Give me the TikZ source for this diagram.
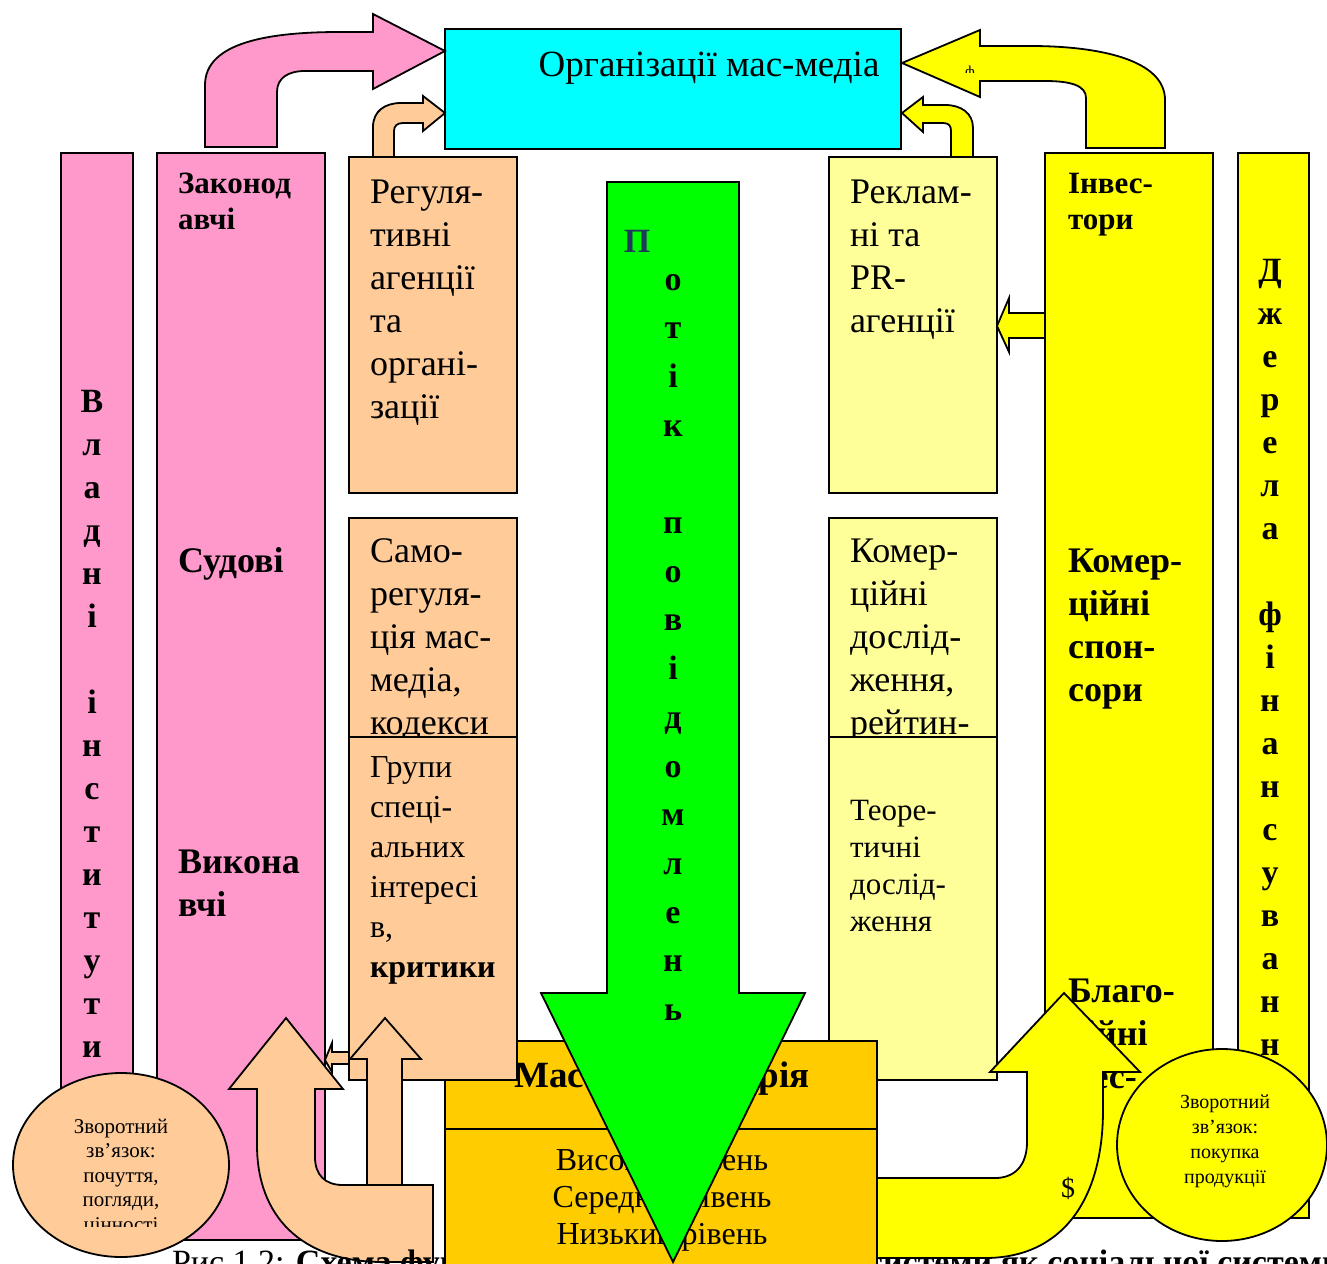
\documentclass[tikz,border=0pt]{standalone}
\usepackage{fontspec}
\setmainfont{Liberation Serif}
\definecolor{pinkc}{HTML}{FF99CC}
\definecolor{peach}{HTML}{FFCC99}
\definecolor{lyel}{HTML}{FFFF99}
\definecolor{yel}{HTML}{FFFF00}
\definecolor{cyanc}{HTML}{00FFFF}
\definecolor{greenc}{HTML}{00FF00}
\definecolor{orng}{HTML}{FFCC00}
\definecolor{slate}{HTML}{203A5A}
\newcommand{\myfs}[2]{\fontsize{#1}{#2}\selectfont}
\begin{document}
\begin{tikzpicture}[x=1pt,y=-1pt,
  outl/.style={draw=black,line width=1.8pt,line join=miter},
  txt/.style={inner sep=0pt,outer sep=0pt},
  blk/.style={txt,anchor=north west,align=left},
  vert/.style={txt,anchor=north,align=center}]
\useasboundingbox (0,0) rectangle (1327,1263);
\clip (0,0) rectangle (1327,1263);

% ---- pink column: authorities
\path[outl,fill=pinkc] (61,153) rectangle (133,1240);
\path[outl,fill=pinkc] (157,153) rectangle (325,1240);
\node[vert,font=\bfseries\myfs{34}{43}] (vlad) at (92,381.9)
  {\strut В\\л\\а\\д\\н\\і\\\mbox{}\\і\\н\\с\\т\\и\\т\\у\\т\\и};
\node[blk,font=\bfseries\myfs{31}{36}] (zak) at (178,167.8) {\strut Законод\\авчі};
\node[txt,anchor=base west,font=\bfseries\myfs{36}{43}] (sud) at (178,572) {Судові};
\node[blk,font=\bfseries\myfs{36}{43}] (vyk) at (178,842.9) {\strut Викона\\вчі};

% ---- light yellow column
\path[outl,fill=lyel] (829,157) rectangle (997,493);
\node[blk,font=\myfs{36}{43}] (rekl) at (850,172.9) {\strut Реклам-\\ні та\\PR-\\агенції};
\path[outl,fill=lyel] (829,518) rectangle (997,737);
\node[blk,font=\myfs{36}{43}] (komd) at (850,531.9) {\strut Комер-\\ційні\\дослід-\\ження,\\рейтин-};
\path[outl,fill=lyel] (829,737) rectangle (997,1080);
\node[blk,font=\myfs{31}{37}] (teor) at (850,794.1) {\strut Теоре-\\тичні\\дослід-\\ження};

% ---- yellow columns: investors, finance sources
\path[outl,fill=yel] (1045,153) rectangle (1213,1218);
\node[blk,font=\bfseries\myfs{31}{36}] (inv) at (1068,167.8) {\strut Інвес-\\тори};
\node[blk,font=\bfseries\myfs{36}{43}] (spon) at (1068,541.9) {\strut Комер-\\ційні\\спон-\\сори};
\node[blk,font=\bfseries\myfs{36}{43}] (blag) at (1068,971.9) {\strut Благо-\\дійні\\мес-};
\path[outl,fill=yel] (1238,153) rectangle (1309,1218);
\node[vert,font=\bfseries\myfs{34}{43}] (dzh) at (1270,250.9)
  {\strut Д\\ж\\е\\р\\е\\л\\а\\\mbox{}\\ф\\і\\н\\а\\н\\с\\у\\в\\а\\н\\н\\я};

% ---- mass media box
\path[outl,fill=cyanc] (445,29) rectangle (901,149);
\node[txt,anchor=base,font=\myfs{37}{43}] (media) at (709,76) {Організації мас-медіа};

% ---- top arrows
\path[outl,fill=pinkc] (205,147) -- (205,85) .. controls (205,42) and (270,32) .. (340,32)
  -- (373,32) -- (373,14) -- (445,51) -- (373,89) -- (373,71) -- (305,71)
  .. controls (288,71) and (277,78) .. (277,92) -- (277,147) -- cycle;
\path[outl,fill=peach] (373,157) -- (373,127) .. controls (373,111) and (385,103) .. (401,103)
  -- (423,103) -- (423,96) -- (445,113) -- (423,131) -- (423,123) -- (403,123)
  .. controls (397,123) and (394,126) .. (394,131) -- (394,157) -- cycle;
\path[outl,fill=yel] (973,157) -- (973,128) .. controls (973,113) and (961,105) .. (945,105)
  -- (923,105) -- (923,97) -- (902,113) -- (923,132) -- (923,123) -- (943,123)
  .. controls (949,123) and (951,126) .. (951,131) -- (951,157) -- cycle;
\path[outl,fill=yel] (1165,148) -- (1165,100) .. controls (1165,60) and (1100,46) .. (1030,46)
  -- (980,46) -- (980,30) -- (902,63) -- (980,97) -- (980,81) -- (1045,81)
  .. controls (1072,81) and (1086,86) .. (1086,98) -- (1086,148) -- cycle;
\begin{scope}
  \clip (955,50) rectangle (990,72);
  \node[txt,anchor=base,font=\myfs{15}{18}] (phi) at (970,76) {ф};
\end{scope}
\path[outl,fill=yel] (1045,313) -- (1009,313) -- (1009,298) -- (997,326) -- (1009,352)
  -- (1009,338) -- (1045,338) -- cycle;

% ---- mass audience
\path[outl,fill=orng] (445,1041) rectangle (877,1280);
\draw[outl] (445,1129) -- (877,1129);
\node[txt,anchor=base,font=\bfseries\myfs{37}{43}] (aud) at (662,1087) {Масова аудиторія};
\node[vert,font=\myfs{32}{37}] (lvl) at (662,1144.1) {\strut Високий рівень\\Середній рівень\\Низький рівень};

% ---- peach column: regulators
\path[outl,fill=peach] (349,157) rectangle (517,493);
\node[blk,font=\myfs{36}{43}] (reg) at (370,172.9) {\strut Регуля-\\тивні\\агенції\\та\\органі-\\зації};
\path[outl,fill=peach] (349,518) rectangle (517,737);
\node[blk,font=\myfs{36}{43}] (samo) at (370,531.9) {\strut Само-\\регуля-\\ція мас-\\медіа,\\кодекси};
\path[outl,fill=peach] (349,737) rectangle (517,1080);
\node[blk,font=\myfs{32}{40}] (grup) at (370,749) {\strut Групи\\спеці-\\альних\\інтересі\\в,\\\textbf{критики}};

% ---- feedback arrows (left)
\path[outl,fill=peach] (349,1052) -- (332,1052) -- (332,1043) -- (325,1060) -- (332,1072)
  -- (332,1064) -- (349,1064) -- cycle;
\path[outl,fill=peach] (367,1195) -- (367,1059) -- (350,1059) -- (385,1018) -- (421,1059)
  -- (402,1059) -- (402,1195) -- cycle;
\path[outl,fill=peach] (433,1185) -- (343,1185) .. controls (325,1185) and (315,1175) .. (315,1157)
  -- (315,1089) -- (343,1089) -- (286,1018) -- (229,1089) -- (257,1089) -- (257,1145)
  .. controls (257,1215) and (300,1262) .. (383,1262) -- (433,1262) -- cycle;

% ---- information flow
\path[outl,fill=greenc] (607,182) -- (739,182) -- (739,993) -- (805,993) -- (673,1262)
  -- (541,993) -- (607,993) -- cycle;
\node[txt,anchor=base,font=\bfseries\myfs{34}{43},text=slate] (p1) at (637,252) {П};
\node[vert,font=\bfseries\myfs{34}{48.7}] (flow) at (673,255.9)
  {\strut о\\т\\і\\к\\\mbox{}\\п\\о\\в\\і\\д\\о\\м\\л\\е\\н\\ь};

% ---- feedback arrow (right)
\path[outl,fill=yel] (877,1178) -- (995,1178) .. controls (1015,1178) and (1027,1165) .. (1027,1142)
  -- (1027,1072) -- (990,1072) -- (1064,993) -- (1140,1072) -- (1103,1072) -- (1103,1110)
  .. controls (1103,1200) and (1062,1258) .. (985,1258) -- (877,1258) -- cycle;
\node[txt,anchor=base,font=\myfs{28}{32}] (dol) at (1068,1197) {\$};

% ---- feedback ellipses
\path[outl,fill=peach] (121,1165) ellipse [x radius=108,y radius=92];
\begin{scope}
  \clip (20,1090) rectangle (225,1226);
  \node[vert,font=\myfs{21}{24.5}] (fbl) at (121,1115.9)
    {\strut Зворотний\\зв’язок:\\почуття,\\погляди,\\цінності};
\end{scope}
\path[outl,fill=yel] (1222,1145) ellipse [x radius=105,y radius=96];
\node[vert,font=\myfs{20}{25}] (fbr) at (1225,1090.5)
  {\strut Зворотний\\зв’язок:\\покупка\\продукції};

% ---- caption (partly hidden)
\begin{scope}
  \clip (0,1242) rectangle (445,1263) (877,1242) rectangle (1327,1263);
  \node[txt,anchor=base west,font=\myfs{34}{40}] (cap) at (172,1273)
    {Рис 1.2: \textbf{Схема функціонування мас-медійної системи як соціальної системи}};
\end{scope}
\end{tikzpicture}
\end{document}
